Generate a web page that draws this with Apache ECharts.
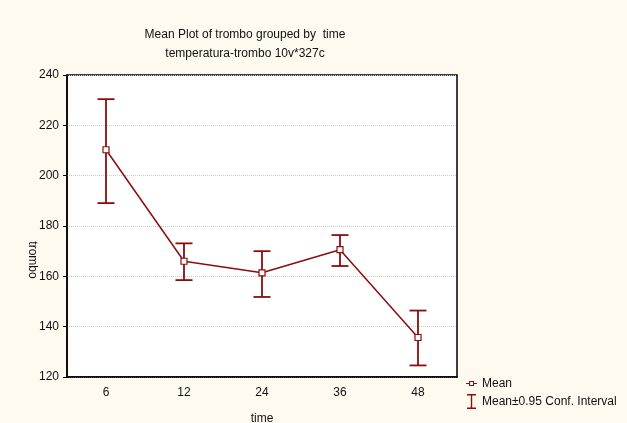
<!DOCTYPE html>
<html>
<head>
    <meta charset="utf-8">
    <script src="https://cdn.jsdelivr.net/npm/echarts@6/dist/echarts.min.js"></script>
</head>
<body style="margin:0;background-color:#fffaf0;">
    <div id="container" style="width:627px;height:423px;"></div>
    <script type="text/javascript">
        var categories = ['6', '12', '24', '36', '48'];
        var means = [210.3, 166.0, 161.4, 170.6, 135.7];
        var lower = [189.1, 158.5, 151.8, 164.1, 124.6];
        var upper = [230.4, 173.1, 170.0, 176.4, 146.4];
        var dark = '#8b0d0d';

        var errData = [];
        for (var i = 0; i < categories.length; i++) {
            errData.push([i, lower[i], upper[i]]);
        }

        // legend icons (the first two tiny paths fix the bounding box to 11x15)
        var meanIcon = 'path://M0,0L0,0M11,15L11,15M0,7H3V5H8V7H11V8H8V10H3V8H0ZM4,6V9H7V6Z';
        var ciIcon = 'path://M0,0L0,0M11,15L11,15M1,0H10V1.4H6.2V13.6H10V15H1V13.6H4.8V1.4H1Z';

        var myChart = echarts.init(document.getElementById('container'));
        var option = {
            backgroundColor: '#fffaf0',
            animation: false,
            textStyle: { fontFamily: 'Liberation Sans, Arial, sans-serif' },
            title: {
                text: 'Mean Plot of trombo grouped by  time',
                subtext: 'temperatura-trombo 10v*327c',
                left: 240,
                textAlign: 'center',
                top: 24,
                itemGap: 7,
                textStyle: { fontSize: 12, fontWeight: 'normal', color: '#111' },
                subtextStyle: { fontSize: 12, color: '#111' }
            },
            legend: {
                orient: 'vertical',
                left: 461,
                top: 371,
                itemGap: 3,
                itemWidth: 11,
                itemHeight: 15,
                textStyle: { fontSize: 12, color: '#111' },
                data: [
                    { name: 'Mean', icon: meanIcon, itemStyle: { color: dark, borderWidth: 0 } },
                    { name: 'Mean\u00b10.95 Conf. Interval', icon: ciIcon, itemStyle: { color: dark, borderWidth: 0 } }
                ]
            },
            grid: {
                left: 67,
                top: 75,
                right: 170,
                bottom: 46,
                outerBoundsMode: 'none',
                show: true,
                backgroundColor: '#ffffff',
                borderColor: '#000',
                borderWidth: 1.5
            },
            xAxis: {
                type: 'category',
                data: categories,
                boundaryGap: true,
                name: 'time',
                nameLocation: 'middle',
                nameGap: 36,
                nameTextStyle: { fontSize: 12, color: '#111' },
                axisLine: { lineStyle: { color: '#000', width: 1.5 } },
                axisTick: { alignWithLabel: true, length: 4, lineStyle: { color: '#000' } },
                axisLabel: { fontSize: 12, color: '#111', margin: 10 },
                splitLine: { show: false }
            },
            yAxis: {
                type: 'value',
                min: 120,
                max: 240,
                interval: 20,
                axisLine: { show: true, lineStyle: { color: '#000', width: 1.5 } },
                axisTick: { show: true, length: 4, lineStyle: { color: '#000' } },
                axisLabel: { fontSize: 12, color: '#111', margin: 8 },
                splitLine: { lineStyle: { color: '#cccccc', type: 'dotted' } }
            },
            graphic: [{
                type: 'text',
                x: 32,
                y: 260,
                rotation: -Math.PI / 2,
                style: {
                    text: 'trombo',
                    fontSize: 12,
                    fontFamily: 'Liberation Sans, Arial, sans-serif',
                    fill: '#111',
                    textAlign: 'center',
                    textVerticalAlign: 'middle'
                }
            }],
            series: [{
                name: 'Mean\u00b10.95 Conf. Interval',
                type: 'custom',
                itemStyle: { color: dark },
                data: errData,
                z: 2,
                renderItem: function (params, api) {
                    var x = api.value(0);
                    var lo = api.coord([x, api.value(1)]);
                    var hi = api.coord([x, api.value(2)]);
                    var half = 8.5;
                    var st = { stroke: dark, lineWidth: 1.8 };
                    return {
                        type: 'group',
                        children: [
                            { type: 'line', shape: { x1: hi[0], y1: hi[1], x2: lo[0], y2: lo[1] }, style: st },
                            { type: 'line', shape: { x1: hi[0] - half, y1: hi[1], x2: hi[0] + half, y2: hi[1] }, style: st },
                            { type: 'line', shape: { x1: lo[0] - half, y1: lo[1], x2: lo[0] + half, y2: lo[1] }, style: st }
                        ]
                    };
                }
            }, {
                name: 'Mean',
                type: 'line',
                data: means,
                z: 3,
                symbol: 'rect',
                symbolSize: 6,
                lineStyle: { color: dark, width: 1.5 },
                itemStyle: { color: '#ffffff', borderColor: dark, borderWidth: 1.2 }
            }]
        };
        myChart.setOption(option);
    </script>
</body>
</html>
